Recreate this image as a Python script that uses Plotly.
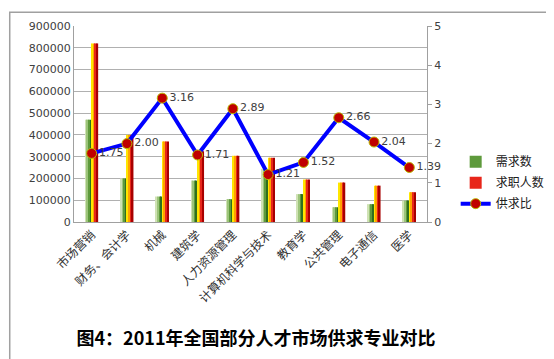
import plotly.graph_objects as go

categories = ["市场营销", "财务、会计学", "机械", "建筑学", "人力资源管理",
              "计算机科学与技术", "教育学", "公共管理", "电子通信", "医学"]
demand = [470000, 200000, 117000, 190000, 105000, 244000, 128000, 68000, 82000, 98500]
applicants = [820000, 400000, 370000, 325000, 304000, 295000, 195000, 181000, 167000, 137000]
ratio = [1.75, 2.00, 3.16, 1.71, 2.89, 1.21, 1.52, 2.66, 2.04, 1.39]
ratio_labels = ["%.2f" % r for r in ratio]
left_ticks = [0, 100000, 200000, 300000, 400000, 500000, 600000, 700000, 800000, 900000]
right_ticks = [0, 1, 2, 3, 4, 5]

green_shades = ["#cfe2b4", "#9cc47a", "#5e9a3c", "#2f6e1e"]
red_shades = ["#ffe600", "#ffa200", "#e8261a", "#a80000"]

fig = go.Figure()
sw = 0.046
for i, c in enumerate(green_shades):
    fig.add_trace(go.Bar(x=categories, y=demand, name="需求数", marker_color=c,
                         marker_line_width=0, width=sw, offset=-4 * sw + i * sw,
                         showlegend=(i == 2), legendgroup="d", legendrank=1))
for i, c in enumerate(red_shades):
    fig.add_trace(go.Bar(x=categories, y=applicants, name="求职人数", marker_color=c,
                         marker_line_width=0, width=sw, offset=i * sw,
                         showlegend=(i == 2), legendgroup="a", legendrank=2))

fig.add_trace(go.Scatter(x=categories, y=ratio, name="供求比", yaxis="y2",
                         mode="lines+markers+text", text=ratio_labels,
                         textposition="middle right", cliponaxis=False,
                         textfont=dict(family="DejaVu Sans", size=11, color="#404040"),
                         line=dict(color="#0000ff", width=4),
                         marker=dict(color="#c00000", size=10,
                                     line=dict(color="#b8b800", width=1)),
                         legendrank=3))

L, R, T, B = 66, 131, 15, 145
W, H = 554, 359
pw, ph = W - L - R, H - T - B

fig.update_layout(
    width=W, height=H,
    margin=dict(l=L, r=R, t=T, b=B),
    paper_bgcolor="white", plot_bgcolor="white",
    barmode="overlay",
    font=dict(family="DejaVu Sans", color="#404040", size=10),
    xaxis=dict(type="category", tickangle=-45, range=[-0.5, len(categories) - 0.5],
               tickfont=dict(family="Noto Sans CJK SC", size=12, color="#303030"),
               showline=True, linecolor="#a0a0a0", linewidth=1,
               ticks="", showgrid=False),
    yaxis=dict(range=[0, 900000], tickvals=left_ticks,
               ticktext=[str(v) for v in left_ticks],
               showgrid=True, gridcolor="#b0b0b0", gridwidth=1,
               showline=True, linecolor="#a0a0a0", linewidth=1,
               zeroline=False, ticks="",
               tickfont=dict(family="DejaVu Sans", size=11, color="#404040")),
    yaxis2=dict(range=[0, 5], tickvals=right_ticks, overlaying="y", side="right",
                showgrid=False, showline=True, linecolor="#a0a0a0", linewidth=1,
                ticks="outside", ticklen=4, tickcolor="#a0a0a0", zeroline=False,
                tickfont=dict(family="DejaVu Sans", size=11, color="#404040")),
    legend=dict(x=(452 - L) / pw, y=(214 - 138) / ph, xanchor="left", yanchor="top",
                font=dict(family="Noto Sans CJK SC", size=12, color="#202020"),
                tracegroupgap=2, bgcolor="rgba(0,0,0,0)", itemwidth=30),
    title=dict(text="<b>图4：2011年全国部分人才市场供求专业对比</b>",
               x=248 / W, xanchor="center", y=1 - 331 / H, yanchor="middle",
               yref="container", xref="container",
               font=dict(family="Noto Sans CJK SC", size=18, color="#000000")),
    shapes=[dict(type="rect", xref="paper", yref="paper",
                 x0=(1 - L) / pw, x1=(552 - L) / pw,
                 y0=(214 - 357) / ph, y1=(214 - 1) / ph,
                 line=dict(color="#a0a0a0", width=1.5), layer="below")],
)

fig.write_html("out.html")
